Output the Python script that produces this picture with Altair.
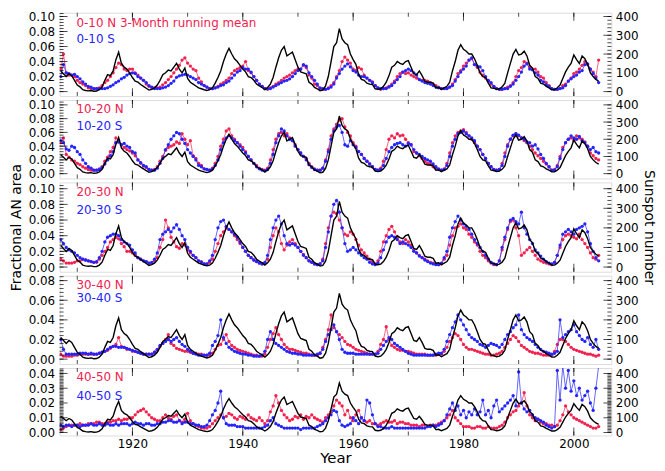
import altair as alt
import numpy as np
import pandas as pd

# ---------------- data (half-year samples starting 1907.0) ----------------
T0 = 1907.0
DT = 0.5

# sunspot number, 3-month running mean (right axis)
sunspot = [
    110,95, 80,95, 85,60, 35,25, 10,6, 4,6, 2,3, 10,25, 60,90, 85,110,
    170,210, 150,130, 120,100, 75,55, 50,38, 28,18, 8,12, 20,35, 60,90, 100,115,
    110,130, 150,120, 100,125, 70,50, 40,30, 20,15, 10,6, 10,20, 45,75, 110,160,
    200,230, 200,175, 160,140, 120,105, 80,75, 60,40, 30,22, 10,22, 40,75, 130,180,
    220,240, 190,200, 210,170, 130,105, 100,95, 50,40, 22,15, 5,8, 30,80, 160,240,
    260,335, 280,260, 250,200, 170,145, 90,65, 60,45, 40,38, 15,12, 15,28, 50,85,
    130,140, 160,150, 145,160, 165,130, 95,90, 110,85, 55,50, 50,45, 20,22, 12,20,
    28,50, 110,160, 220,250, 225,215, 200,200, 175,140, 100,80, 75,45, 20,18, 12,15,
    25,45, 100,150, 200,225, 195,200, 215,190, 140,125, 80,70, 45,40, 28,20, 10,10,
    20,35, 70,105, 130,150, 195,170, 150,190, 175,145, 100,80, 65,55,
]

# fractional AN area in units of 0.001
n_00_10 = [
    30,50, 25,22, 22,20, 15,12, 10,8, 5,4, 4,4, 5,8, 12,15, 20,25,
    32,38, 36,30, 28,30, 30,25, 22,18, 15,10, 7,5, 5,5, 6,9, 12,16,
    20,25, 30,35, 42,45, 38,34, 30,28, 18,13, 8,6, 4,4, 5,7, 10,12,
    15,18, 24,28, 30,32, 34,40, 28,25, 20,15, 10,7, 4,3, 5,7, 10,12,
    15,18, 20,22, 25,28, 30,30, 35,32, 22,18, 10,8, 4,3, 3,5, 8,12,
    20,28, 40,46, 42,38, 30,28, 32,30, 22,18, 15,13, 8,5, 3,4, 5,7,
    10,14, 20,24, 26,24, 25,22, 20,18, 16,15, 15,14, 12,10, 8,6, 4,4,
    4,6, 10,16, 24,28, 34,38, 42,44, 36,32, 26,22, 18,14, 10,7, 4,3,
    3,4, 6,8, 12,20, 28,32, 40,38, 33,30, 30,26, 20,18, 12,8, 4,3,
    3,4, 8,10, 14,18, 24,26, 30,35, 40,36, 30,26, 20,42,
]
s_00_10 = [
    20,36, 25,24, 22,23, 20,17, 13,10, 7,6, 4,4, 4,4, 4,5, 7,9,
    12,14, 17,19, 22,24, 25,24, 20,18, 15,12, 8,6, 4,4, 4,5, 6,8,
    11,14, 19,21, 22,23, 22,20, 18,16, 12,10, 8,6, 4,4, 5,6, 8,9,
    12,14, 18,22, 26,28, 32,30, 30,26, 20,15, 10,7, 4,4, 4,6, 8,10,
    12,14, 15,17, 20,24, 28,30, 36,34, 25,20, 15,10, 5,4, 3,4, 6,10,
    18,24, 30,34, 37,33, 28,26, 22,20, 20,18, 15,12, 8,5, 4,4, 4,6,
    8,12, 16,20, 26,28, 30,28, 25,22, 16,14, 12,11, 10,8, 6,5, 4,4,
    4,6, 8,14, 20,26, 30,34, 42,45, 36,34, 33,28, 20,15, 12,7, 4,3,
    3,4, 4,7, 10,15, 20,26, 34,37, 30,29, 25,22, 15,13, 9,7, 4,3,
    3,4, 5,8, 14,17, 20,22, 26,28, 36,37, 30,24, 18,12,
]
n_10_20 = [
    45,52, 28,24, 20,18, 15,13, 10,8, 6,5, 5,5, 7,10, 18,24, 32,38,
    52,48, 42,38, 35,33, 30,26, 20,15, 11,9, 6,5, 6,10, 18,25, 34,38,
    40,42, 46,44, 58,50, 42,48, 26,22, 15,12, 7,6, 5,8, 15,25, 40,50,
    62,65, 55,50, 45,42, 38,32, 25,20, 15,12, 8,6, 5,8, 20,35, 50,58,
    60,55, 58,52, 48,42, 35,30, 25,22, 15,10, 7,5, 5,8, 20,35, 55,65,
    72,78, 80,68, 60,55, 45,40, 32,28, 22,18, 14,10, 6,5, 8,18, 35,50,
    55,52, 58,55, 56,50, 45,42, 32,30, 26,22, 18,15, 14,10, 8,6, 5,7,
    15,30, 45,55, 60,62, 64,60, 55,50, 45,40, 35,28, 22,15, 10,6, 5,6,
    15,30, 42,50, 55,58, 55,52, 48,45, 40,35, 30,26, 22,18, 14,10, 5,6,
    12,25, 38,45, 50,52, 48,55, 52,50, 46,40, 30,26, 22,20,
]
s_10_20 = [
    48,45, 36,34, 40,38, 32,28, 20,15, 10,8, 5,5, 6,9, 14,20, 26,32,
    45,46, 42,44, 40,38, 32,30, 20,16, 12,10, 6,5, 5,8, 15,22, 35,42,
    50,55, 60,58, 50,44, 35,30, 25,20, 12,10, 7,6, 5,7, 12,20, 35,45,
    52,55, 52,48, 45,40, 35,30, 25,20, 15,10, 7,5, 4,6, 15,28, 45,55,
    65,62, 55,50, 48,40, 35,30, 25,20, 13,9, 6,5, 5,8, 18,32, 50,62,
    68,70, 60,42, 40,48, 42,38, 32,28, 22,18, 14,10, 6,5, 6,12, 22,32,
    38,42, 44,45, 42,40, 44,42, 35,30, 28,25, 22,20, 18,14, 10,7, 5,6,
    12,25, 40,50, 58,60, 62,58, 55,52, 48,40, 35,28, 22,15, 10,6, 5,6,
    12,25, 40,50, 56,58, 56,52, 50,46, 45,40, 42,36, 28,22, 15,10, 5,5,
    10,22, 35,45, 50,55, 52,50, 54,48, 45,40, 35,38, 32,30,
]
n_20_30 = [
    10,8, 5,5, 5,6, 8,8, 10,9, 8,7, 6,6, 10,15, 20,25, 32,35,
    38,36, 30,26, 20,20, 18,15, 12,10, 8,7, 5,5, 8,12, 25,35, 60,50,
    38,32, 26,24, 30,28, 22,18, 15,12, 8,7, 4,4, 6,10, 20,30, 40,45,
    50,48, 45,40, 35,30, 25,20, 15,12, 9,7, 5,4, 5,10, 25,40, 50,45,
    30,22, 28,32, 35,30, 25,20, 16,12, 8,6, 4,3, 4,10, 30,50, 65,70,
    68,60, 50,42, 40,45, 42,35, 28,22, 18,14, 10,7, 4,8, 20,32, 40,48,
    52,45, 38,32, 30,35, 32,28, 22,18, 15,12, 10,8, 6,5, 4,3, 4,10,
    15,28, 40,50, 52,55, 50,48, 42,38, 32,28, 20,15, 12,8, 5,3, 3,8,
    22,35, 48,58, 60,50, 40,15, 18,22, 25,20, 15,10, 8,6, 5,4, 3,6,
    15,25, 35,40, 42,40, 38,36, 42,35, 30,25, 18,12, 10,15,
]
s_20_30 = [
    35,30, 25,22, 20,18, 15,12, 10,9, 8,7, 6,7, 12,20, 32,38, 40,42,
    42,40, 35,32, 30,28, 22,18, 12,10, 8,7, 5,6, 10,18, 35,42, 45,48,
    45,50, 54,48, 40,35, 25,20, 15,12, 8,6, 4,4, 8,15, 35,50, 58,60,
    52,48, 45,42, 38,32, 25,20, 15,12, 9,7, 5,4, 6,15, 35,50, 60,65,
    55,40, 30,28, 30,28, 25,20, 15,12, 8,6, 4,3, 4,8, 25,45, 65,80,
    85,70, 50,30, 20,22, 25,22, 18,15, 12,10, 6,4, 3,5, 12,22, 32,38,
    40,38, 35,30, 32,30, 28,25, 20,18, 14,12, 9,7, 5,4, 3,3, 5,12,
    20,38, 50,58, 65,60, 55,52, 48,42, 35,30, 25,20, 15,10, 6,4, 3,8,
    25,38, 50,60, 62,58, 55,70, 50,42, 35,30, 22,18, 14,10, 7,5, 4,6,
    15,28, 42,45, 48,45, 42,48, 50,52, 55,45, 30,20, 12,8,
]
n_30_40 = [
    5,3, 3,3, 3,4, 4,5, 5,5, 5,5, 5,5, 6,7, 8,9, 11,13,
    15,22, 13,12, 10,10, 8,8, 7,6, 5,5, 5,5, 7,9, 13,16, 20,25,
    16,14, 11,10, 9,8, 8,7, 6,6, 5,5, 4,4, 4,6, 10,14, 15,20,
    25,18, 14,12, 10,9, 8,7, 6,5, 4,4, 3,3, 5,12, 20,26, 32,25,
    20,15, 12,10, 10,9, 8,7, 6,6, 5,4, 4,4, 6,12, 20,30, 45,32,
    28,25, 22,18, 15,14, 12,10, 9,8, 7,6, 5,5, 5,8, 15,20, 33,20,
    14,12, 10,9, 9,8, 8,7, 6,5, 5,5, 5,4, 4,4, 4,5, 5,8,
    12,18, 22,26, 24,20, 15,12, 10,10, 9,8, 7,6, 5,5, 4,4, 5,6,
    8,12, 16,20, 24,22, 18,14, 12,10, 8,7, 6,6, 5,4, 4,4, 4,8,
    15,20, 20,18, 15,12, 10,9, 8,7, 6,5, 5,4, 3,4,
]
s_30_40 = [
    20,10, 5,5, 5,5, 5,6, 6,6, 5,6, 5,5, 6,7, 8,10, 12,13,
    13,12, 12,12, 11,10, 9,8, 7,6, 5,5, 5,5, 7,10, 14,16, 18,20,
    18,20, 22,18, 15,13, 10,8, 6,5, 4,4, 4,4, 6,14, 18,24, 40,22,
    16,12, 10,8, 7,6, 5,5, 4,4, 3,3, 3,4, 8,20, 28,20, 16,14,
    12,10, 8,7, 6,6, 5,5, 4,4, 4,4, 4,5, 6,10, 18,25, 30,35,
    28,20, 10,7, 6,6, 6,5, 5,5, 5,5, 5,5, 5,6, 10,14, 18,22,
    20,16, 14,12, 10,8, 6,5, 4,4, 4,4, 4,4, 4,4, 5,6, 6,10,
    18,25, 32,38, 45,40, 35,30, 25,22, 20,18, 15,14, 12,14, 16,15, 14,12,
    15,20, 25,28, 32,35, 45,30, 25,22, 20,18, 15,12, 10,8, 7,6, 5,6,
    8,40, 22,25, 28,30, 35,28, 24,20, 18,22, 15,12, 20,10,
]
n_40_50 = [
    2,3, 4,5, 5,5, 5,6, 5,5, 6,6, 6,7, 7,6, 6,7, 7,8,
    8,9, 8,9, 9,10, 10,12, 14,15, 16,14, 12,10, 9,8, 8,10, 12,10,
    9,11, 12,8, 7,9, 13,8, 6,5, 4,3, 3,3, 4,6, 8,10, 12,10,
    11,13, 12,10, 9,11, 10,9, 12,10, 9,8, 10,8, 6,8, 14,18, 25,20,
    15,12, 10,8, 9,11, 10,12, 9,11, 10,12, 10,9, 8,7, 10,12, 14,18,
    22,20, 18,12, 15,10, 8,12, 15,10, 8,7, 8,6, 6,5, 6,7, 8,7,
    7,8, 6,7, 7,6, 6,5, 5,5, 4,5, 5,4, 5,5, 5,6, 7,8,
    10,12, 15,10, 8,6, 4,4, 4,3, 3,4, 4,3, 3,4, 3,3, 3,4,
    5,7, 10,12, 14,15, 18,20, 27,18, 12,10, 8,9, 7,6, 6,5, 5,4,
    5,8, 12,18, 14,12, 10,9, 8,7, 6,5, 4,3, 3,4,
]
s_40_50 = [
    5,4, 5,5, 4,5, 5,4, 5,5, 5,6, 5,5, 6,5, 5,6, 5,5,
    6,5, 6,6, 6,5, 6,7, 6,6, 5,6, 6,5, 5,6, 6,7, 7,8,
    8,7, 7,8, 6,7, 7,6, 6,5, 5,4, 4,5, 8,12, 15,20, 28,10,
    6,5, 5,5, 4,4, 4,3, 3,3, 3,3, 3,3, 4,5, 8,10, 6,5,
    4,3, 3,3, 3,3, 3,2, 3,3, 3,3, 3,4, 5,6, 8,10, 12,15,
    14,8, 5,4, 5,6, 10,8, 6,10, 8,22, 20,12, 6,4, 4,3, 3,3,
    4,3, 3,3, 3,3, 3,3, 3,3, 3,3, 3,4, 4,5, 4,5, 6,8,
    12,16, 20,15, 18,12, 15,10, 14,12, 16,12, 14,22, 12,15, 10,18, 22,14,
    16,18, 20,22, 25,18, 41,20, 16,14, 15,12, 10,9, 8,7, 5,4, 3,4,
    42,22, 45,30, 42,28, 35,25, 30,22, 25,28, 20,15, 30,45,
]

north = [n_00_10, n_10_20, n_20_30, n_30_40, n_40_50]
south = [s_00_10, s_10_20, s_20_30, s_30_40, s_40_50]
labels_n = ["0-10 N 3-Month running mean", "10-20 N", "20-30 N", "30-40 N", "40-50 N"]
labels_s = ["0-10 S", "10-20 S", "20-30 S", "30-40 S", "40-50 S"]
year_ticks = [1920, 1940, 1960, 1980, 2000]
year_minor = [1910, 1920, 1930, 1940, 1950, 1960, 1970, 1980, 1990, 2000]
left_ticks = [
    [0.00, 0.02, 0.04, 0.06, 0.08, 0.10],
    [0.00, 0.02, 0.04, 0.06, 0.08, 0.10],
    [0.00, 0.02, 0.04, 0.06, 0.08, 0.10],
    [0.00, 0.02, 0.04, 0.06, 0.08],
    [0.00, 0.01, 0.02, 0.03, 0.04],
]
right_ticks = [0, 100, 200, 300, 400]

for s in [sunspot] + north + south:
    assert len(s) == len(sunspot), len(s)

years = T0 + DT * np.arange(len(sunspot))

# ---------------- styling ----------------
FONT = "DejaVu Sans"
RED = "#f3214f"
BLUE = "#2424ff"
W = 556
HEIGHTS = [84, 79, 90, 89, 68]
YDOM = [(-0.006, 0.105), (-0.007, 0.107), (-0.006, 0.108), (-0.005, 0.085), (-0.002, 0.0437)]
FACTOR = [4000, 4000, 4000, 5000, 10000]
LMINOR = [0.004, 0.004, 0.004, 0.004, 0.001]
RMINOR = [20, 20, 20, 20, 10]
TEXT_Y = [(10, 27), (9, 26), (10, 28), (9, 22), (9, 28)]
XDOM = [1906.8, 2006.8]
LABEL_SIZE = 12


def panel(k):
    H = HEIGHTS[k]
    lo, hi = YDOM[k]
    f = FACTOR[k]

    xax = dict(values=year_ticks, format="d", ticks=False, domain=False, grid=False,
               labelPadding=3, labelFontSize=LABEL_SIZE, labelFont=FONT, labelColor="black")
    if k == 4:
        xax.update(title="Year", titleFont=FONT, titleFontSize=15, titleFontWeight="normal",
                   titlePadding=1, titleColor="black")
    else:
        xax.update(labels=False, title=None)
    X = alt.X("year:Q", scale=alt.Scale(domain=XDOM, nice=False, zero=False), axis=alt.Axis(**xax))

    yax = dict(values=left_ticks[k], format=".2f", ticks=False, domain=False, grid=False,
               labelPadding=5, labelFontSize=LABEL_SIZE, labelFont=FONT, labelColor="black",
               labelOverlap=False)
    if k == 2:
        yax.update(title="Fractional AN area", titleFont=FONT, titleFontSize=14,
                   titleFontWeight="normal", titlePadding=5, titleColor="black")
    else:
        yax.update(title=None)
    YL = alt.Y("val:Q", scale=alt.Scale(domain=[lo, hi], nice=False, zero=False), axis=alt.Axis(**yax))

    rax = dict(values=right_ticks, format="d", orient="right", ticks=False, domain=False, grid=False,
               labelPadding=4, labelFontSize=LABEL_SIZE, labelFont=FONT, labelColor="black",
               labelOverlap=False)
    if k == 2:
        rax.update(title="Sunspot number", titleFont=FONT, titleFontSize=14,
                   titleFontWeight="normal", titlePadding=4, titleColor="black")
    else:
        rax.update(title=None)
    YR = alt.Y("ssn:Q", scale=alt.Scale(domain=[lo * f, hi * f], nice=False, zero=False), axis=alt.Axis(**rax))

    dn = pd.DataFrame({"year": years, "val": np.array(north[k]) * 0.001})
    ds = pd.DataFrame({"year": years, "val": np.array(south[k]) * 0.001})
    dsun = pd.DataFrame({"year": years, "ssn": sunspot})

    red_line = alt.Chart(dn).mark_line(color=RED, strokeWidth=0.7, clip=True).encode(x=X, y=YL)
    red_pts = alt.Chart(dn).mark_circle(color=RED, size=11, opacity=1, clip=True).encode(x=X, y=YL)
    blue_line = alt.Chart(ds).mark_line(color=BLUE, strokeWidth=0.7, clip=True).encode(x=X, y=YL)
    blue_pts = alt.Chart(ds).mark_circle(color=BLUE, size=11, opacity=1, clip=True).encode(x=X, y=YL)

    lminor_vals = [round(v, 4) for v in np.arange(0, hi, LMINOR[k])]
    lmaj = alt.Chart(pd.DataFrame({"val": left_ticks[k]})).mark_tick(
        orient="horizontal", size=8, thickness=1, color="black").encode(y=YL, x=alt.value(4))
    lmin = alt.Chart(pd.DataFrame({"val": lminor_vals})).mark_tick(
        orient="horizontal", size=4, thickness=1, color="black").encode(y=YL, x=alt.value(2))

    xmaj_b = alt.Chart(pd.DataFrame({"year": year_ticks})).mark_tick(
        orient="vertical", size=8, thickness=1, color="black").encode(x=X, y=alt.value(H - 4))
    xmaj_t = alt.Chart(pd.DataFrame({"year": year_ticks})).mark_tick(
        orient="vertical", size=8, thickness=1, color="black").encode(x=X, y=alt.value(4))
    xmin_b = alt.Chart(pd.DataFrame({"year": year_minor})).mark_tick(
        orient="vertical", size=4, thickness=1, color="black").encode(x=X, y=alt.value(H - 2))
    xmin_t = alt.Chart(pd.DataFrame({"year": year_minor})).mark_tick(
        orient="vertical", size=4, thickness=1, color="black").encode(x=X, y=alt.value(2))

    tn = alt.Chart(pd.DataFrame({"t": [labels_n[k]]})).mark_text(
        align="left", baseline="middle", font=FONT, fontSize=12, color=RED
    ).encode(text="t:N", x=alt.value(17), y=alt.value(TEXT_Y[k][0]))
    ts = alt.Chart(pd.DataFrame({"t": [labels_s[k]]})).mark_text(
        align="left", baseline="middle", font=FONT, fontSize=12, color=BLUE
    ).encode(text="t:N", x=alt.value(17), y=alt.value(TEXT_Y[k][1]))

    left = alt.layer(red_line, red_pts, blue_line, blue_pts, lmaj, lmin,
                     xmaj_b, xmaj_t, xmin_b, xmin_t, tn, ts)

    rminor_vals = list(np.arange(0, 401, RMINOR[k]))
    black = alt.Chart(dsun).mark_line(color="black", strokeWidth=1.4, clip=True).encode(x=X, y=YR)
    rmaj = alt.Chart(pd.DataFrame({"ssn": right_ticks})).mark_tick(
        orient="horizontal", size=8, thickness=1, color="black").encode(y=YR, x=alt.value(W - 4))
    rmin = alt.Chart(pd.DataFrame({"ssn": rminor_vals})).mark_tick(
        orient="horizontal", size=4, thickness=1, color="black").encode(y=YR, x=alt.value(W - 2))
    right = alt.layer(black, rmaj, rmin)

    return alt.layer(left, right).resolve_scale(y="independent").properties(width=W, height=H)


chart = alt.vconcat(*[panel(k) for k in range(5)], spacing=4, bounds="flush").properties(
    padding={"left": 0, "top": 0, "right": 0, "bottom": 0}
).configure_view(stroke="black", strokeWidth=1.5).configure(font=FONT)

chart.save("out.html", embed_options={"renderer": "svg", "actions": False})
